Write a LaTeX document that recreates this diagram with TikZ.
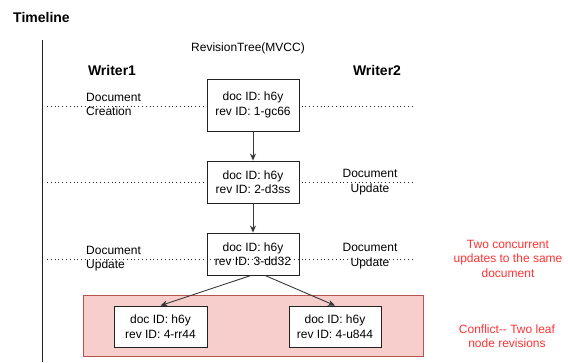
\documentclass[tikz,border=0pt]{standalone}
\usepackage{fontspec}
\setmainfont{Liberation Sans}
\usetikzlibrary{arrows.meta}
\definecolor{conflictfill}{HTML}{F8CECC}
\definecolor{conflictline}{HTML}{B85450}
\definecolor{notered}{HTML}{FF3333}
\definecolor{ink}{HTML}{222222}
\tikzset{
  txt/.style={inner sep=0pt, align=center, font=\fontsize{12}{14.5}\selectfont},
  lbl/.style={txt, align=left, anchor=west},
  head/.style={inner sep=0pt, font=\fontsize{14}{16}\selectfont\bfseries},
  rev/.style={txt, draw=ink, line width=0.9pt, fill=white, minimum width=92pt, minimum height=42pt},
  note/.style={txt, text=notered},
  flow/.style={draw=ink!90, line width=0.9pt, -{Stealth[length=7pt,width=6pt]}},
  tick/.style={draw=ink, line width=0.8pt, dash pattern=on 0.8pt off 3pt},
}
\begin{document}
\begin{tikzpicture}[x=1pt, y=-1pt]
\useasboundingbox (0,0) rectangle (568,362);

% timeline axis
\node[head] (timeline) at (41.5,17) {Timeline};
\coordinate (axtop) at (42,40);
\coordinate (axbot) at (42,362);
\draw[ink, line width=1pt] (axtop) -- (axbot);

% conflict region
\node[draw=conflictline, fill=conflictfill, line width=0.9pt, minimum width=340pt, minimum height=61pt, inner sep=0pt]
  (conflict) at (253,325.5) {};

% time-step guide lines
\foreach \n/\y in {a/106, b/182, c/259} {
  \coordinate (\n L) at (47,\y);
  \coordinate (\n R) at (413,\y);
  \draw[tick] (\n L) -- (\n R);
}

% headings
\node[txt] (tree) at (248,48) {RevisionTree(MVCC)};
\node[head] (w1) at (112,70) {Writer1};
\node[head] (w2) at (377,70) {Writer2};

% events
\node[lbl] (e1) at (86,104.5) {Document\\Creation};
\node[txt] (e2) at (370,182) {Document\\Update};
\node[lbl] (e3) at (86,258.5) {Document\\Update};
\node[txt] (e4) at (370,256) {Document\\Update};

% revisions
\node[rev, minimum height=52pt] (r1) at (253,105) {doc ID: h6y\\rev ID: 1-gc66};
\node[rev] (r2) at (253,182) {doc ID: h6y\\rev ID: 2-d3ss};
\node[rev, fill=none] (r3) at (253,254) {doc ID: h6y\\rev ID: 3-dd32};
\node[rev, minimum height=41pt, minimum width=93pt] (r4a) at (160.5,326.5) {doc ID: h6y\\rev ID: 4-rr44};
\node[rev, minimum height=41pt] (r4b) at (335,326.5) {doc ID: h6y\\rev ID: 4-u844};

\draw[flow] (r1.south) -- (r2.north);
\draw[flow] (r2.south) -- (r3.north);
\draw[flow] ([xshift=-2pt]r3.south) -- (r4a.north);
\draw[flow] ([xshift=12pt]r3.south) -- (r4b.north);

% notes
\node[note] (n1) at (508,258.5) {Two concurrent\\updates to the same\\document};
\node[note] (n2) at (507,336) {Conflict-{}- Two leaf\\node revisions};
\end{tikzpicture}
\end{document}
